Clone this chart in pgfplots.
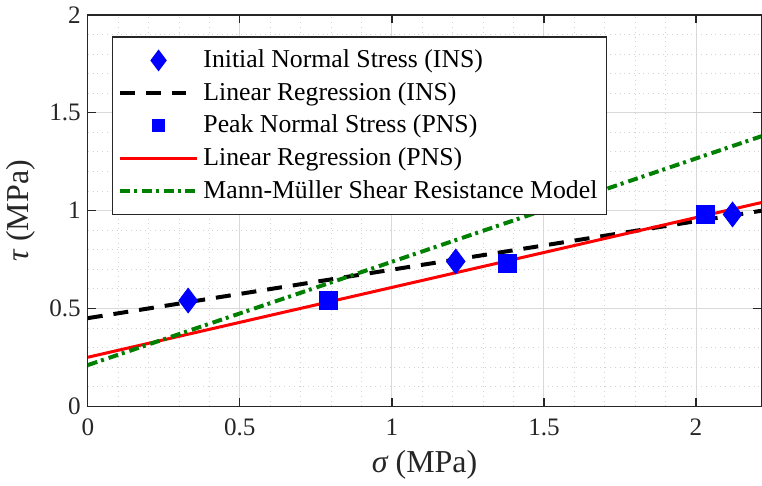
\documentclass[border=0pt]{standalone}
\usepackage{fontspec}
\setmainfont{Liberation Serif}
\usepackage{pgfplots}
\pgfplotsset{compat=1.18}
\definecolor{mgreen}{rgb}{0,0.5,0}
\definecolor{axgray}{gray}{0.15}
\begin{document}
\begin{tikzpicture}
\begin{axis}[
  scale only axis,
  width=337.5pt, height=196pt,
  xmin=0, xmax=2.215, ymin=0, ymax=2,
  xtick={0,0.5,1,1.5,2}, ytick={0,0.5,1,1.5,2},
  minor x tick num=4, minor y tick num=4,
  grid=both,
  major grid style={gray!30, line width=0.5pt},
  minor grid style={gray!35, dotted, line width=0.4pt},
  tick align=inside, major tick length=4pt, minor tick length=0pt,
  axis line style={axgray, line width=0.6pt},
  tick style={axgray, line width=0.6pt},
  ticklabel style={font=\rmfamily\fontsize{12.6}{14}\selectfont, text=axgray},
  /pgf/number format/assume math mode=true,
  xticklabel style={yshift=-3pt},
  xlabel={{\itshape σ} (MPa)},
  ylabel={{\itshape τ} (MPa)},
  label style={font=\rmfamily\fontsize{16}{18}\selectfont, text=axgray},
  legend cell align=left,
  legend image code/.code={\draw[mark repeat=2,mark phase=2,#1] plot coordinates {(0pt,0pt) (19.5pt,0pt) (39pt,0pt)};},
  legend style={at={(0.036,0.945)}, anchor=north west, draw=axgray, line width=0.6pt,
    font=\fontsize{12.9}{15}\selectfont, inner xsep=2.5pt, inner ysep=3.5pt,
    nodes={text height=10pt, text depth=3pt, inner ysep=1.7pt},
    /tikz/every even column/.append style={column sep=1.5pt}},
]
\addplot[only marks, mark=diamond*, mark size=6.2pt, color=blue,
  legend image post style={mark size=5pt}] coordinates {
  (0.33,0.54) (1.21,0.74) (2.12,0.98)};
\addlegendentry{Initial Normal Stress (INS)}
\addplot[black, line width=2pt, dash pattern=on 7.5pt off 5.5pt] coordinates {
  (0,0.45) (2.215,0.999)};
\addlegendentry{Linear Regression (INS)}
\addplot[only marks, mark=square*, mark size=4.5pt, color=blue,
  legend image post style={mark size=3pt}] coordinates {
  (0.79,0.54) (1.38,0.73) (2.03,0.98)};
\addlegendentry{Peak Normal Stress (PNS)}
\addplot[red, line width=1.5pt] coordinates {
  (0,0.25) (2.215,1.041)};
\addlegendentry{Linear Regression (PNS)}
\addplot[mgreen, line width=2pt, dash pattern=on 5pt off 2pt on 1.5pt off 2.5pt] coordinates {
  (0,0.21) (2.215,1.38)};
\addlegendentry{Mann-Müller Shear Resistance Model}
\end{axis}
\end{tikzpicture}
\end{document}
